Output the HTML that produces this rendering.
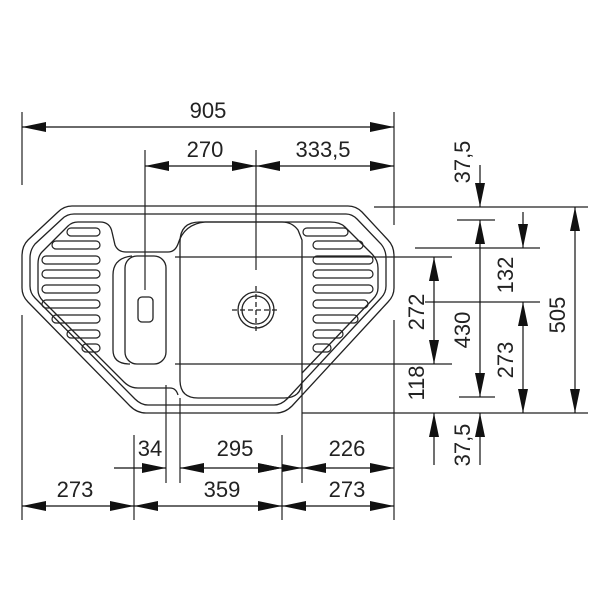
<!DOCTYPE html>
<html><head><style>body{margin:0;background:#fff}svg{display:block}text{font-family:"Liberation Sans",Arial,sans-serif;font-size:22px;fill:#222}</style></head><body>
<svg width="600" height="600" viewBox="0 0 600 600" xmlns="http://www.w3.org/2000/svg">
<defs>
<marker id="a" viewBox="0 0 24 10" refX="24" refY="5" markerWidth="24" markerHeight="10" markerUnits="userSpaceOnUse" orient="auto-start-reverse"><path d="M0,0L24,5L0,10z" fill="#111"/></marker>
</defs>
<g stroke="#222" stroke-width="1.3" fill="none">
<!-- outer sink -->
<path d="M72,206 L348,206 Q356,206 362,212 L388,240 Q394,246 394,256 L394,288 Q394,296 388,302 L292,406 Q285,413 276,413 L146,413 Q137,413 130,406 L28,302 Q22,296 22,288 L22,256 Q22,246 28,240 L58,212 Q64,206 72,206Z"/>
<path d="M74,214 L346,214 Q352,214 357,219 L381,244 Q386,250 386,258 L386,286 Q386,293 381,298 L287,399 Q281,405 274,405 L148,405 Q141,405 135,399 L35,298 Q30,293 30,286 L30,258 Q30,250 35,244 L62,219 Q67,214 74,214Z"/>
<!-- left drainboard + small bowl region -->
<path d="M100,222 Q110,222 112,232 L115,245 Q118,252 126,252 L168,252 Q175,252 178,244 Q184,224 205,222 L330,222 Q340,222 345,227 L372,254 Q378,260 378,268 L378,288 Q378,294 373,299 L302,373"/>
<path d="M100,222 L78,222 Q72,222 68,226 L42,252 Q38,256 38,264 L38,290 Q38,296 43,301 L124,382 Q130,388 138,388 L170,388 Q176,388 178,395"/>
<!-- small bowl -->
<rect x="125" y="256" width="41" height="108" rx="12"/>
<path d="M132,256 Q113,258 113,275 L113,350 Q113,364 130,364"/>
<rect x="138" y="297" width="15" height="25" rx="4"/>
<!-- main bowl -->
<path d="M200,222 L282,222 Q292,222 298,230 L302,240 L302,380 Q302,398 284,398 L198,398 Q180,398 180,380 L180,242 Q180,222 200,222Z"/>
<circle cx="256" cy="310" r="18"/><circle cx="256" cy="310" r="14"/>
<g stroke-dasharray="5,3"><line x1="232" y1="310" x2="280" y2="310"/><line x1="256" y1="286" x2="256" y2="334"/></g>
</g>
<!-- ribs -->
<g stroke="#222" stroke-width="1.2" fill="none">
<rect x="67" y="228" width="33" height="8" rx="4"/>
<rect x="52" y="241" width="48" height="8" rx="4"/>
<rect x="42" y="256" width="58" height="8" rx="4"/>
<rect x="42" y="270" width="58" height="8" rx="4"/>
<rect x="42" y="285" width="58" height="8" rx="4"/>
<rect x="42" y="300" width="58" height="8" rx="4"/>
<rect x="52" y="315" width="48" height="8" rx="4"/>
<rect x="67" y="330" width="33" height="8" rx="4"/>
<rect x="82" y="344" width="18" height="8" rx="4"/>
<rect x="303" y="228" width="45" height="8" rx="4"/>
<rect x="313" y="241" width="50" height="8" rx="4"/>
<rect x="313" y="256" width="60" height="8" rx="4"/>
<rect x="313" y="270" width="60" height="8" rx="4"/>
<rect x="313" y="285" width="60" height="8" rx="4"/>
<rect x="313" y="300" width="55" height="8" rx="4"/>
<rect x="313" y="315" width="45" height="8" rx="4"/>
<rect x="313" y="330" width="30" height="8" rx="4"/>
<rect x="313" y="344" width="18" height="8" rx="4"/>
</g>
<!-- extension lines -->
<g stroke="#222" stroke-width="1.2">
<line x1="22" y1="112" x2="22" y2="185"/><line x1="22" y1="315" x2="22" y2="520"/>
<line x1="394" y1="112" x2="394" y2="225"/><line x1="394" y1="320" x2="394" y2="520"/>
<line x1="145" y1="150" x2="145" y2="290"/><line x1="256" y1="150" x2="256" y2="270"/>
<line x1="175" y1="257" x2="452" y2="257"/><line x1="175" y1="364" x2="452" y2="364"/>
<line x1="374" y1="207" x2="588" y2="207"/><line x1="457" y1="220" x2="495" y2="220"/>
<line x1="415" y1="248" x2="540" y2="248"/><line x1="425" y1="302" x2="540" y2="302"/>
<line x1="459" y1="397" x2="495" y2="397"/><line x1="302" y1="413" x2="588" y2="413"/>
<line x1="166" y1="385" x2="166" y2="483"/><line x1="180" y1="398" x2="180" y2="483"/><line x1="302" y1="380" x2="302" y2="483"/>
<line x1="134" y1="435" x2="134" y2="520"/><line x1="282" y1="435" x2="282" y2="520"/>
</g>
<!-- dimension lines -->
<g stroke="#111" stroke-width="1.2" fill="none">
<line x1="22" y1="127" x2="394" y2="127" marker-start="url(#a)" marker-end="url(#a)"/>
<line x1="145" y1="166" x2="256" y2="166" marker-start="url(#a)" marker-end="url(#a)"/>
<line x1="256" y1="166" x2="394" y2="166" marker-start="url(#a)" marker-end="url(#a)"/>
<line x1="114" y1="468" x2="166" y2="468" marker-end="url(#a)"/>
<line x1="180" y1="468" x2="282" y2="468" marker-start="url(#a)" marker-end="url(#a)"/>
<line x1="302" y1="468" x2="394" y2="468" marker-start="url(#a)" marker-end="url(#a)"/>
<line x1="282" y1="468" x2="302" y2="468"/>
<path d="M282,468 l-20,-4 v8z M302,468 l-20,-4 v8z" fill="#111" stroke="none"/>
<line x1="22" y1="506" x2="134" y2="506" marker-start="url(#a)" marker-end="url(#a)"/>
<line x1="134" y1="506" x2="282" y2="506" marker-start="url(#a)" marker-end="url(#a)"/>
<line x1="282" y1="506" x2="394" y2="506" marker-start="url(#a)" marker-end="url(#a)"/>
<line x1="480" y1="165" x2="480" y2="207" marker-end="url(#a)"/>
<line x1="480" y1="220" x2="480" y2="397" marker-start="url(#a)" marker-end="url(#a)"/>
<line x1="480" y1="465" x2="480" y2="413" marker-end="url(#a)"/>
<line x1="575" y1="207" x2="575" y2="413" marker-start="url(#a)" marker-end="url(#a)"/>
<line x1="523" y1="212" x2="523" y2="248" marker-end="url(#a)"/>
<line x1="523" y1="302" x2="523" y2="413" marker-start="url(#a)" marker-end="url(#a)"/>
<line x1="434" y1="257" x2="434" y2="364" marker-start="url(#a)" marker-end="url(#a)"/>
<line x1="434" y1="465" x2="434" y2="413" marker-end="url(#a)"/>
</g>
<!-- labels -->
<text x="208" y="118" text-anchor="middle">905</text>
<text x="205" y="157" text-anchor="middle">270</text>
<text x="323" y="157" text-anchor="middle">333,5</text>
<text x="150" y="456" text-anchor="middle">34</text>
<text x="235" y="456" text-anchor="middle">295</text>
<text x="347" y="456" text-anchor="middle">226</text>
<text x="75" y="497" text-anchor="middle">273</text>
<text x="222" y="497" text-anchor="middle">359</text>
<text x="347" y="497" text-anchor="middle">273</text>
<text transform="translate(470,162) rotate(-90)" text-anchor="middle">37,5</text>
<text transform="translate(513,275) rotate(-90)" text-anchor="middle">132</text>
<text transform="translate(565,315) rotate(-90)" text-anchor="middle">505</text>
<text transform="translate(470,330) rotate(-90)" text-anchor="middle">430</text>
<text transform="translate(513,360) rotate(-90)" text-anchor="middle">273</text>
<text transform="translate(424,312) rotate(-90)" text-anchor="middle">272</text>
<text transform="translate(424,383) rotate(-90)" text-anchor="middle">118</text>
<text transform="translate(470,445) rotate(-90)" text-anchor="middle">37,5</text>
</svg>
</body></html>
